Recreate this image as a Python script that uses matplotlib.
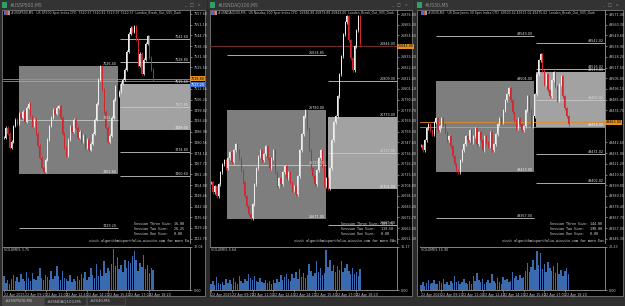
import matplotlib
matplotlib.use('Agg')
import matplotlib.pyplot as plt
from matplotlib.patches import Rectangle

W, H = 625, 306

# ---------------- data ----------------
sp_close = [7483.2, 7489.2, 7485.6, 7477.2, 7480.8, 7490.4, 7494.0, 7491.6, 7497.6, 7495.2,
            7498.8, 7492.8, 7501.2, 7503.6, 7496.4, 7490.4, 7494.0, 7485.6, 7478.4, 7471.2,
            7465.2, 7462.8, 7470.0, 7482.0, 7490.4, 7495.2, 7500.0, 7497.6, 7501.2, 7502.4,
            7495.2, 7485.6, 7477.2, 7472.4, 7482.0, 7490.4, 7486.8, 7494.0, 7489.2, 7483.2,
            7486.8, 7480.8, 7484.4, 7477.2, 7482.0, 7476.0, 7479.6, 7485.6, 7494.0, 7503.6,
            7518.0, 7526.4, 7512.0, 7498.8, 7489.2, 7480.8, 7484.4, 7495.2, 7506.0, 7514.4,
            7508.4, 7510.8, 7515.6, 7518.0, 7524.0, 7534.8, 7545.6, 7549.2, 7546.8, 7550.4,
            7542.0, 7526.4, 7533.6, 7521.6, 7530.0, 7539.6, 7544.4, 7531.2, 7524.0, 7518.0]
nq_close = [26708, 26698, 26704, 26694, 26706, 26718, 26726, 26730, 26722, 26732,
            26738, 26728, 26740, 26746, 26740, 26732, 26720, 26708, 26694, 26684,
            26676, 26672, 26686, 26706, 26722, 26734, 26740, 26730, 26736, 26744,
            26732, 26722, 26732, 26740, 26718, 26704, 26712, 26706, 26718, 26724,
            26712, 26718, 26708, 26700, 26704, 26696, 26714, 26740, 26756, 26774,
            26780, 26762, 26740, 26722, 26714, 26706, 26720, 26732, 26740, 26724,
            26704, 26712, 26702, 26722, 26750, 26768, 26774, 26794, 26816, 26834,
            26856, 26868, 26874, 26850, 26832, 26820, 26844, 26860, 26874, 26846]
dj_close = [49440, 49435, 49445, 49457, 49461, 49455, 49451, 49463, 49467, 49455,
            49459, 49467, 49461, 49453, 49445, 49449, 49439, 49429, 49421, 49415,
            49413, 49425, 49435, 49441, 49449, 49445, 49455, 49443, 49449, 49457,
            49441, 49453, 49445, 49435, 49449, 49443, 49439, 49453, 49435, 49441,
            49451, 49461, 49467, 49463, 49475, 49485, 49491, 49497, 49485, 49473,
            49465, 49457, 49467, 49461, 49455, 49459, 49475, 49489, 49475, 49459,
            49469, 49491, 49511, 49525, 49531, 49515, 49501, 49511, 49495, 49489,
            49505, 49513, 49499, 49485, 49501, 49509, 49489, 49477, 49469, 49461]

sp_vol = [3.8, 2.1, 2.9, 1.8, 3.2, 4.1, 2.5, 3.6, 2.2, 4.4,
          3.0, 2.6, 5.1, 3.3, 2.4, 4.8, 3.1, 2.7, 3.9, 6.2,
          3.4, 2.9, 4.2, 3.6, 2.8, 5.4, 3.2, 4.0, 6.8, 3.9,
          2.7, 5.2, 3.5, 3.0, 2.4, 4.3, 2.2, 3.1, 2.6, 3.8,
          2.9, 4.6, 3.3, 5.0, 2.8, 3.6, 6.1, 4.2, 3.4, 7.2,
          4.0, 5.6, 3.8, 8.1, 4.9, 6.3, 5.2, 7.4, 11.6, 6.8,
          9.2, 5.9, 7.0, 5.1, 8.4, 6.2, 8.0, 7.5, 9.6, 11.0,
          8.3, 5.4, 7.7, 6.5, 9.9, 5.8, 6.9, 4.7, 6.2, 5.6]
nq_vol = [2.1, 3.4, 1.8, 4.9, 2.6, 2.2, 3.1, 1.9, 4.1, 2.8,
          3.6, 2.4, 4.5, 3.0, 2.2, 5.3, 3.2, 2.7, 4.0, 3.5,
          6.2, 4.4, 3.8, 5.1, 3.3, 2.9, 4.6, 3.1, 2.5, 3.9,
          2.8, 3.4, 2.3, 3.7, 2.6, 4.2, 3.0, 5.5, 3.6, 4.8,
          6.1, 4.0, 3.2, 5.9, 4.4, 6.8, 4.1, 7.9, 5.0, 6.4,
          4.7, 5.8, 9.6, 7.1, 5.4, 6.3, 10.8, 6.9, 8.2, 5.6,
          6.5, 15.0, 8.8, 11.4, 7.2, 9.5, 6.6, 8.9, 7.4, 10.9,
          6.8, 8.1, 9.7, 7.0, 6.2, 8.4, 5.9, 6.7, 5.2, 7.9]
dj_vol = [2.4, 3.8, 2.0, 3.1, 4.6, 2.7, 3.5, 4.9, 3.0, 2.6,
          4.2, 3.3, 5.4, 2.9, 3.7, 2.5, 4.0, 3.2, 6.8, 3.6,
          4.4, 2.8, 3.9, 5.0, 3.4, 2.7, 4.1, 3.0, 6.5, 4.3,
          7.9, 4.8, 3.6, 5.2, 2.9, 3.8, 4.5, 3.1, 7.6, 4.0,
          3.3, 5.6, 3.9, 2.8, 6.1, 4.6, 5.3, 3.7, 4.2, 8.4,
          5.5, 6.7, 4.9, 7.2, 5.8, 6.0, 9.1, 12.8, 8.3, 10.6,
          14.2, 9.4, 18.4, 11.8, 17.6, 9.9, 12.4, 8.6, 13.1, 10.2,
          9.0, 11.5, 8.0, 12.7, 7.4, 9.6, 6.8, 8.8, 10.4, 7.7]

time_ticks = [0, 11, 22, 33, 44, 55, 66, 77]
time_labels = ["22 Apr 2025", "22 Apr 09:20", "22 Apr 11:00", "22 Apr 12:40",
               "22 Apr 14:20", "22 Apr 15:40", "22 Apr 17:00", "22 Apr 18:20"]

sp_ticks = [7557.60, 7551.18, 7544.76, 7538.34, 7531.92, 7525.50, 7512.66, 7506.24,
            7499.82, 7493.40, 7486.98, 7480.56, 7474.14, 7467.72, 7461.30, 7454.88, 7448.46,
            7442.04, 7435.62, 7429.20, 7422.78]
nq_ticks = [26876.00, 26865.30, 26854.60, 26833.20, 26822.50, 26811.80, 26801.10,
            26790.40, 26779.70, 26769.00, 26758.30, 26747.60, 26736.90, 26726.20, 26715.50,
            26704.80, 26694.10, 26683.40, 26672.70, 26662.00, 26651.30]
dj_ticks = [49571.00, 49560.30, 49549.60, 49538.90, 49528.20, 49517.50, 49506.80, 49496.10,
            49485.40, 49474.70, 49442.60, 49431.90, 49421.20, 49410.50,
            49399.80, 49389.10, 49378.40, 49367.70, 49357.00, 49346.30]

# session boxes (start index, end index, low, high)
sp_box_start = [7.9, 61.6]
sp_box_end = [60.5, 98.5]
sp_box_low = [7461.6, 7488.0]
sp_box_high = [7526.4, 7515.6]
nq_box_start = [8.4, 62.1]
nq_box_end = [61.1, 98.5]
nq_box_low = [26671.0, 26701.0]
nq_box_high = [26780.0, 26773.0]
dj_box_start = [7.9, 61.6]
dj_box_end = [60.5, 98.5]
dj_box_low = [49413.0, 49458.0]
dj_box_high = [49504.0, 49513.0]

# breakout levels
sp_lvl_price = [7542.60, 7528.80, 7501.80, 7494.00, 7474.80, 7460.60, 7429.20]
sp_lvl_start = [61.6, 61.6, 61.6, 7.9, 61.6, 61.6, 7.9]
sp_lvl_end = [98.5, 98.5, 98.5, 60.5, 98.5, 98.5, 60.5]
nq_lvl_price = [26844.00, 26834.85, 26809.00, 26737.00, 26725.50, 26665.00]
nq_lvl_start = [62.1, 8.4, 62.1, 62.1, 8.4, 62.1]
nq_lvl_end = [98.5, 61.1, 98.5, 98.5, 61.1, 98.5]
dj_lvl_price = [49549.00, 49542.02, 49516.02, 49485.02, 49431.02, 49402.02, 49367.00]
dj_lvl_start = [7.9, 61.6, 61.6, 61.6, 61.6, 61.6, 7.9]
dj_lvl_end = [60.5, 98.5, 98.5, 98.5, 98.5, 98.5, 60.5]

sp_last, nq_last, dj_last = 7518.8, 26844.0, 49463.0
sp_prev, dj_prev = 7517.2, 49458.0

sp_session = ["Session Three Size: 16.00", "Session Two Size:   26.25", "Session One Size:   0.00"]
nq_session = ["Session Three Size: 109.75", "Session Two Size:   119.50", "Session One Size:   0.00"]
dj_session = ["Session Three Size: 144.00", "Session Two Size:   198.00", "Session One Size:   0.00"]

titles = ["#USSP500,M5", "#USNDAQ100,M5", "#US30,M5"]
headers = ["#USSP500,M5:  US SP500 Spot Index CFD  7520.57 7520.82 7519.97 7520.37  London_Break_Out_V05_Dark",
           "#USNDAQ100,M5:  US Nasdaq 100 Spot Index CFD  26846.88 26879.88 26843.00  London_Break_Out_V05_Dark",
           "#US30,M5:  US Dow Jones 30 Spot Index CFD  49503.62 49515.02 49475.02  London_Break_Out_V05_Dark"]
vol_names = ["VOLUMES 3.75", "VOLUMES 5.64", "VOLUMES 15.90"]
vol_max = [12.04, 16.17, 20.23]
footer = ["visit algorithmicportfolio.wixsite.com for more Ea",
          "visit algorithmicportfolio.wixsite.com for more EAs",
          "visit algorithmicportfolio.wixsite.com for more Eas"]

# ---------------- drawing ----------------
plt.rcParams['font.family'] = ['DejaVu Sans']
fig = plt.figure(figsize=(W / 100, H / 100), dpi=100)
fig.patch.set_facecolor('#2a2a2a')

bg = fig.add_axes([0, 0, 1, 1])
bg.set_xlim(0, W)
bg.set_ylim(H, 0)
bg.axis('off')
bg.set_zorder(-5)

TXT = '#c8c8c8'
RED = '#d0262c'
WHITE = '#eeeeee'
FS = 2.4


def px_axes(x0, y0, x1, y1):
    return fig.add_axes([x0 / W, 1 - y1 / H, (x1 - x0) / W, (y1 - y0) / H])


windows = [(0, 207), (208, 414), (415, 625)]
for k, (wx0, wx1) in enumerate(windows):
    bg.add_patch(Rectangle((wx0, 0), wx1 - wx0, 10, color='#333333', lw=0))
    bg.add_patch(Rectangle((wx0 + 2, 2), 5, 6, color='#2f9e6a', lw=0))
    bg.text(wx0 + 10, 5.2, titles[k], fontsize=3.3, color='#8c8c8c', va='center')
    bg.text(wx1 - 6, 5, "_   \u25a1   \u00d7", fontsize=3.0, color='#8c8c8c', va='center', ha='right')
    bg.add_patch(Rectangle((wx0 + 2, 10), wx1 - wx0 - 4, 286, facecolor='black',
                           edgecolor='#7a7a7a', lw=0.6))
# bottom tab strip
bg.add_patch(Rectangle((0, 296.5), W, 10, color='#2f2f2f', lw=0))
tabs = [(2, 43, "#USSP500,M5", '#4a4a4a'), (44, 86, "#USNDAQ100,M5", '#303030'),
        (87, 125, "#US30,M5", '#303030')]
for tx0, tx1, tl, tc in tabs:
    bg.add_patch(Rectangle((tx0, 297), tx1 - tx0, 8, facecolor=tc, edgecolor='#555555', lw=0.4))
    bg.text(tx0 + 3, 301.2, tl, fontsize=2.9, color='#bdbdbd', va='center')

panels = [
    dict(x0=3, x1=190, close=sp_close, vol=sp_vol, ylim=(7420.2, 7560.0), ticks=sp_ticks,
         bs=sp_box_start, be=sp_box_end, bl=sp_box_low, bh=sp_box_high,
         lp=sp_lvl_price, ls=sp_lvl_start, le=sp_lvl_end, last=sp_last, prev=sp_prev,
         sess=sp_session, wick=0.9, fullcol='#e08a1e'),
    dict(x0=210, x1=397, close=nq_close, vol=nq_vol, ylim=(26647.0, 26880.0), ticks=nq_ticks,
         bs=nq_box_start, be=nq_box_end, bl=nq_box_low, bh=nq_box_high,
         lp=nq_lvl_price, ls=nq_lvl_start, le=nq_lvl_end, last=nq_last, prev=None,
         sess=nq_session, wick=1.5, fullcol='#6a2c2c'),
    dict(x0=420, x1=605, close=dj_close, vol=dj_vol, ylim=(49342.0, 49575.0), ticks=dj_ticks,
         bs=dj_box_start, be=dj_box_end, bl=dj_box_low, bh=dj_box_high,
         lp=dj_lvl_price, ls=dj_lvl_start, le=dj_lvl_end, last=dj_last, prev=dj_prev,
         sess=dj_session, wick=1.5, fullcol='#e08a1e'),
]

XL = (-0.5, 98.5)
for k, p in enumerate(panels):
    ax = px_axes(p['x0'], 10, p['x1'], 243)
    ax.set_facecolor('none')
    ax.set_xlim(*XL)
    ax.set_ylim(*p['ylim'])
    for s in ['top', 'left', 'bottom']:
        ax.spines[s].set_visible(False)
    ax.spines['right'].set_color('#9a9a9a')
    ax.spines['right'].set_linewidth(0.6)
    ax.yaxis.tick_right()
    ax.set_yticks(p['ticks'])
    ax.set_yticklabels(['%.2f' % t for t in p['ticks']])
    ax.tick_params(axis='y', labelsize=FS, colors=TXT, length=1.5, width=0.4, pad=1)
    ax.set_xticks([])

    # session boxes
    cols = ['#7e7e7e', '#a2a2a2']
    for j in range(2):
        ax.add_patch(Rectangle((p['bs'][j], p['bl'][j]), p['be'][j] - p['bs'][j],
                               p['bh'][j] - p['bl'][j], facecolor=cols[j], lw=0, zorder=1))
        ax.text(p['be'][j] - 0.8, p['bh'][j], '%.2f' % p['bh'][j], fontsize=FS, color='#e6e6e6',
                ha='right', va='bottom', zorder=5)
        ax.text(p['be'][j] - 0.8, p['bl'][j], '%.2f' % p['bl'][j], fontsize=FS, color='#f0f0f0',
                ha='right', va='bottom', zorder=5)
    # levels
    for pr, s0, s1 in zip(p['lp'], p['ls'], p['le']):
        ax.hlines(pr, s0, s1, color='#c8c8c8', lw=0.6, zorder=2)
        ax.text(s1 - 0.8, pr, '%.2f' % pr, fontsize=FS, color='#d8d8d8', ha='right',
                va='bottom', zorder=5)
    # last price line
    ax.axhline(p['last'], color=p['fullcol'], lw=0.9 if k == 1 else 0.6, zorder=2)
    if p['prev'] is not None:
        ax.axhline(p['prev'], color='#9fb0c4', lw=0.5, zorder=2)
    ax.text(1.003, p['last'], '%.2f' % p['last'], transform=ax.get_yaxis_transform(),
            fontsize=FS, color='black', va='center', ha='left', zorder=6,
            bbox=dict(boxstyle='square,pad=0.15', fc='#e8901e', ec='none'))
    if k == 0:
        ax.text(1.003, p['prev'] - 2.2, '%.2f' % p['prev'], transform=ax.get_yaxis_transform(),
                fontsize=FS, color='white', va='center', ha='left', zorder=6,
                bbox=dict(boxstyle='square,pad=0.15', fc='#3d6fd0', ec='none'))

    # candles
    c = p['close']
    o = [c[0]] + c[:-1]
    for i in range(len(c)):
        col = RED if c[i] < o[i] else WHITE
        lo, hi = min(o[i], c[i]), max(o[i], c[i])
        ax.vlines(i, lo - p['wick'], hi + p['wick'], color=col, lw=0.55, zorder=3)
        ax.bar(i, max(hi - lo, 0.01), bottom=lo, width=0.55, color=col, lw=0, zorder=3)

    # texts
    ax.text(0.045, 0.987, headers[k], transform=ax.transAxes, fontsize=2.25, color=TXT,
            va='center', ha='left', zorder=6)
    for q, cc in enumerate(['#3d6fd0', '#d04040', '#9a9a9a']):
        ax.add_patch(Rectangle((0.005 + q * 0.012, 0.98), 0.009, 0.014, transform=ax.transAxes,
                               color=cc, lw=0, zorder=6))
    for q, s in enumerate(p['sess']):
        ax.text(0.70, 0.082 - q * 0.021, s, transform=ax.transAxes, fontsize=FS,
                family='DejaVu Sans Mono', color='#e0e0e0', va='center', ha='left', zorder=6)
    ax.text(0.995, 0.008, footer[k], transform=ax.transAxes, fontsize=FS,
            family='DejaVu Sans Mono', color='#e0e0e0', va='center', ha='right', zorder=6)

    # volume sub-window
    vx = px_axes(p['x0'], 247, p['x1'], 290)
    vx.set_facecolor('black')
    vx.set_xlim(*XL)
    vx.set_ylim(0, vol_max[k])
    vx.bar(range(len(p['vol'])), p['vol'], width=0.8, color='#3a6bb0', lw=0)
    vx.spines['left'].set_visible(False)
    for s in ['top', 'bottom', 'right']:
        vx.spines[s].set_color('#9a9a9a')
        vx.spines[s].set_linewidth(0.6)
    vx.yaxis.tick_right()
    vx.set_yticks([0, vol_max[k]])
    vx.set_yticklabels(['0.00', '%.2f' % vol_max[k]])
    vx.tick_params(axis='y', labelsize=FS, colors=TXT, length=1.5, width=0.4, pad=1)
    vx.set_xticks(time_ticks)
    vx.set_xticklabels(time_labels, ha='left')
    vx.tick_params(axis='x', labelsize=FS, colors=TXT, length=1.2, width=0.4, pad=0.8)
    vx.text(0.008, 0.93, vol_names[k], transform=vx.transAxes, fontsize=FS, color=TXT,
            va='center', ha='left')

fig.savefig('out.png', dpi=100, facecolor=fig.get_facecolor())
